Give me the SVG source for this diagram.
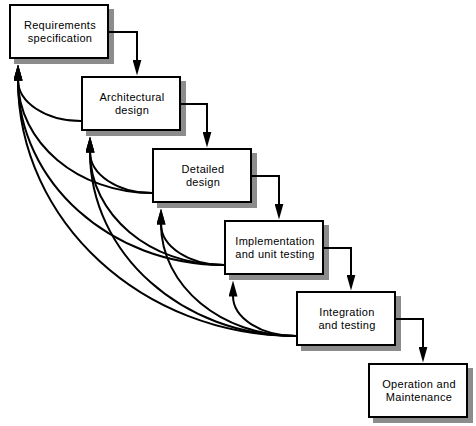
<svg xmlns="http://www.w3.org/2000/svg" width="476" height="426" viewBox="0 0 476 426">
<style>
.shadow{fill:#8c8c8c;stroke:none}
.box{fill:#ffffff;stroke:#000000;stroke-width:2}
.lbl{font-family:"Liberation Sans",Arial,Helvetica,sans-serif;font-size:11px;letter-spacing:0.3px;fill:#000000;text-anchor:middle}
.con{fill:none;stroke:#000000;stroke-width:2;stroke-linejoin:miter;marker-end:url(#ah)}
</style>
<defs>
<marker id="ah" viewBox="0 0 16 9" refX="0.5" refY="4.5" markerWidth="16" markerHeight="9" markerUnits="userSpaceOnUse" orient="auto">
<path d="M0,0 L16,4.5 L0,9 z" fill="#000000"/>
</marker>
</defs>
<rect width="476" height="426" fill="#ffffff"/>

<g id="n1">
<rect class="shadow" x="14" y="9" width="100" height="55"/>
<rect class="box" x="10" y="5" width="98" height="53"/>
<text class="lbl" x="60" y="29"><tspan x="60" y="29">Requirements</tspan><tspan x="60" y="41.5">specification</tspan></text>
</g>
<g id="n2">
<rect class="shadow" x="86" y="81" width="100" height="55"/>
<rect class="box" x="82" y="77" width="98" height="53"/>
<text class="lbl" x="132" y="101"><tspan x="132" y="101">Architectural</tspan><tspan x="132" y="113.5">design</tspan></text>
</g>
<g id="n3">
<rect class="shadow" x="157" y="153" width="100" height="55"/>
<rect class="box" x="153" y="149" width="98" height="53"/>
<text class="lbl" x="203" y="173"><tspan x="203" y="173">Detailed</tspan><tspan x="203" y="185.5">design</tspan></text>
</g>
<g id="n4">
<rect class="shadow" x="229" y="225" width="100" height="55"/>
<rect class="box" x="225" y="221" width="98" height="53"/>
<text class="lbl" x="275" y="245"><tspan x="275" y="245">Implementation</tspan><tspan x="275" y="257.5">and unit testing</tspan></text>
</g>
<g id="n5">
<rect class="shadow" x="301" y="296" width="100" height="55"/>
<rect class="box" x="297" y="292" width="98" height="53"/>
<text class="lbl" x="347" y="316"><tspan x="347" y="316">Integration</tspan><tspan x="347" y="328.5">and testing</tspan></text>
</g>
<g id="n6">
<rect class="shadow" x="373" y="368" width="100" height="55"/>
<rect class="box" x="369" y="364" width="98" height="53"/>
<text class="lbl" x="419" y="388"><tspan x="419" y="388">Operation and</tspan><tspan x="419" y="400.5">Maintenance</tspan></text>
</g>

<g id="connectors">
<path class="con" d="M109,32 H137 V60"/>
<path class="con" d="M181,104 H207 V132"/>
<path class="con" d="M252,176 H279 V204"/>
<path class="con" d="M324,248 H351 V275"/>
<path class="con" d="M396,319 H423 V347"/>

<path class="con" d="M81,121 C46.2,121 18,102.6 18,80"/>
<path class="con" d="M152,193 C78,193 18,142.4 18,80"/>
<path class="con" d="M224,265 C110.2,265 18,182.2 18,80"/>
<path class="con" d="M296,336 C142.5,336 18,221.4 18,80"/>
<path class="con" d="M152,193 C117.8,193 90,174.6 90,152"/>
<path class="con" d="M224,265 C150,265 90,214.4 90,152"/>
<path class="con" d="M296,336 C182.2,336 90,253.6 90,152"/>
<path class="con" d="M224,265 C189.2,265 161,246.6 161,224"/>
<path class="con" d="M296,336 C221.4,336 161,285.9 161,224"/>
<path class="con" d="M296,336 C261.2,336 233,318.1 233,296"/>
</g>
</svg>
